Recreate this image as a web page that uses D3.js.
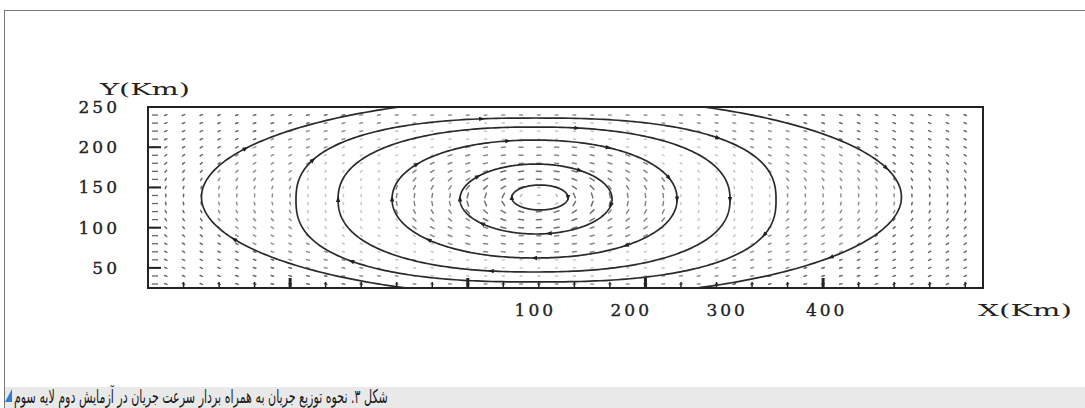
<!DOCTYPE html>
<html>
<head>
<meta charset="utf-8">
<script src="https://cdn.jsdelivr.net/npm/d3@7"></script>
<style>
  body { margin: 0; background: #fff; }
  svg { display: block; }
</style>
</head>
<body>
<svg id="chart" width="1085" height="408"></svg>
<script>
// tick labels as printed on the figure (x labels sit where the scan put them)
var xTickLabels = ["100", "200", "300", "400"];
var xTickLabelKm = [218, 272, 326, 382];
var xMajorTicks = [80, 180, 280, 380];
var yTickLabels = [50, 100, 150, 200, 250];

// streamlines, inner to outer: centre, radii (km), squareness
var lineCx = [220.6, 218.4, 217.6, 217.3, 218.4, 227.1];
var lineCy = [137.5, 135.6, 135.6, 135.0, 134.4, 138.1];
var lineRx = [15.8, 42.8, 80.2, 110.3, 135.1, 197.0];
var lineRy = [15.5, 43.5, 73.3, 90.1, 101.9, 124.3];
var lineSq = [2, 2, 2.1, 2.3, 2.5, 2];
// where the arrow heads sit on each streamline (degrees, clockwise from east)
var arrowAngles = [
  [0, 180],
  [10, 80, 135, 180, 220, 305],
  [0, 51, 90, 137, 180, 215, 260, 300, 340],
  [0, 100, 180, 280],
  [20, 136, 204, 261, 315],
  [37, 155, 209, 343]
];
// velocity vectors: relative length and darkness per band
// (inside 1st line, between consecutive lines, outside the last one)
var bandSpeed = [0.3, 0.8, 0.6, 0.2, 0.2, 0.35, 0.3];
var bandShade = [0.35, 0.7, 0.6, 0.28, 0.3, 0.55, 0.75];
// velocity grid (km)
var vecXKm = d3.range(10, 470, 10);
var vecYKm = d3.range(30, 250, 10);

var svg = d3.select("#chart");
var x = d3.scaleLinear().domain([0, 470]).range([148, 983]);
var y = d3.scaleLinear().domain([25, 250]).range([288, 107]);

// page frame + caption bar
svg.append("line").attr("x1", 4.5).attr("x2", 4.5).attr("y1", 10).attr("y2", 408)
  .attr("stroke", "#777").attr("stroke-width", 1);
svg.append("line").attr("x1", 4).attr("x2", 1085).attr("y1", 10.5).attr("y2", 10.5)
  .attr("stroke", "#777").attr("stroke-width", 1);
svg.append("rect").attr("x", 5).attr("y", 387).attr("width", 1080).attr("height", 21)
  .attr("fill", "#e9e9e9");
svg.append("path").attr("d", "M12,389 L12,402 L5,402 Z").attr("fill", "#2b7fd0");

var cap = svg.append("text")
  .attr("x", 14).attr("y", 403)
  .attr("direction", "rtl")
  .attr("text-anchor", "end")
  .attr("font-family", "DejaVu Sans")
  .attr("font-size", 19)
  .attr("fill", "#1a1a1a")
  .text("شکل ۳. نحوه توزیع جریان به همراه بردار سرعت جریان در آزمایش دوم لایه سوم");
var capW = cap.node().getComputedTextLength();
cap.attr("transform", "translate(14,0) scale(" + (374 / capW) + ",1) translate(-14,0)");

svg.append("clipPath").attr("id", "box")
  .append("rect").attr("x", x(0)).attr("y", y(250))
  .attr("width", x(470) - x(0)).attr("height", y(25) - y(250));

// which band a grid point falls in
function inside(i, gx, gy) {
  var n = lineSq[i];
  return Math.pow(Math.abs((gx - lineCx[i]) / lineRx[i]), n) +
         Math.pow(Math.abs((gy - lineCy[i]) / lineRy[i]), n);
}

var vecs = [];
vecYKm.forEach(function (gy) {
  vecXKm.forEach(function (gx) {
    var band = 6;
    for (var i = 0; i < 6; i++) { if (inside(i, gx, gy) <= 1) { band = i; break; } }
    var j = Math.min(band, 5), n = lineSq[j];
    var dx = (gx - lineCx[j]) / lineRx[j], dy = (gy - lineCy[j]) / lineRy[j];
    var gxk = Math.sign(dx) * Math.pow(Math.abs(dx), n - 1) / lineRx[j];
    var gyk = Math.sign(dy) * Math.pow(Math.abs(dy), n - 1) / lineRy[j];
    // clockwise tangent, in screen units
    var tx = gyk * (x(1) - x(0)), ty = gxk * (y(0) - y(1));
    var len = Math.sqrt(tx * tx + ty * ty) || 1;
    vecs.push({ gx: gx, gy: gy, ux: tx / len, uy: ty / len,
                s: bandSpeed[band], c: bandShade[band] });
  });
});

function vlen(d) { return 1 + 5 * d.s; }
var field = svg.append("g").attr("clip-path", "url(#box)");
field.selectAll("line.vec").data(vecs).enter().append("line")
  .attr("class", "vec")
  .attr("x1", function (d) { return x(d.gx) - d.ux * vlen(d) / 2; })
  .attr("y1", function (d) { return y(d.gy) - d.uy * vlen(d) / 2; })
  .attr("x2", function (d) { return x(d.gx) + d.ux * vlen(d) / 2; })
  .attr("y2", function (d) { return y(d.gy) + d.uy * vlen(d) / 2; })
  .attr("stroke", "#333")
  .attr("stroke-width", 1.5)
  .attr("stroke-linecap", "round")
  .attr("stroke-opacity", function (d) { return d.c; });

// streamlines
function pt(i, deg) {
  var t = deg * Math.PI / 180, c = Math.cos(t), s = Math.sin(t), e = 2 / lineSq[i];
  var xk = lineCx[i] + lineRx[i] * Math.sign(c) * Math.pow(Math.abs(c), e);
  var yk = lineCy[i] - lineRy[i] * Math.sign(s) * Math.pow(Math.abs(s), e);
  return [x(xk), y(yk)];
}
var lineGen = d3.line().curve(d3.curveLinearClosed);
var streams = svg.append("g").attr("clip-path", "url(#box)");
d3.range(6).forEach(function (i) {
  var pts = d3.range(0, 360, 1).map(function (a) { return pt(i, a); });
  streams.append("path").attr("d", lineGen(pts))
    .attr("fill", "none").attr("stroke", "#2a2a2a").attr("stroke-width", 1.7);
  arrowAngles[i].forEach(function (a) {
    var p = pt(i, a), p0 = pt(i, a - 1), p1 = pt(i, a + 1);
    var ux = p1[0] - p0[0], uy = p1[1] - p0[1], l = Math.sqrt(ux * ux + uy * uy);
    ux /= l; uy /= l;
    var tip = [p[0] + ux * 3.5, p[1] + uy * 3.5];
    var b1 = [p[0] - ux * 2.5 - uy * 2.2, p[1] - uy * 2.5 + ux * 2.2];
    var b2 = [p[0] - ux * 2.5 + uy * 2.2, p[1] - uy * 2.5 - ux * 2.2];
    streams.append("path").attr("d", "M" + tip + "L" + b1 + "L" + b2 + "Z")
      .attr("fill", "#222");
  });
});

// frame of the plot
svg.append("rect").attr("x", x(0)).attr("y", y(250))
  .attr("width", x(470) - x(0)).attr("height", y(25) - y(250))
  .attr("fill", "none").attr("stroke", "#222").attr("stroke-width", 2);

// x ticks (inward)
var xt = svg.append("g");
xt.selectAll("line").data(d3.range(20, 470, 20)).enter().append("line")
  .attr("x1", function (d) { return x(d); }).attr("x2", function (d) { return x(d); })
  .attr("y1", y(25))
  .attr("y2", function (d) { return y(25) - (xMajorTicks.indexOf(d) >= 0 ? 10 : 6); })
  .attr("stroke", "#222")
  .attr("stroke-width", function (d) { return xMajorTicks.indexOf(d) >= 0 ? 3 : 1.5; });

// y ticks (inward)
var yt = svg.append("g");
yt.selectAll("line.minor").data(d3.range(30, 250, 10)).enter().append("line")
  .attr("class", "minor")
  .attr("x1", x(0) + 4).attr("x2", x(0) + 10)
  .attr("y1", function (d) { return y(d); }).attr("y2", function (d) { return y(d); })
  .attr("stroke", "#666").attr("stroke-width", 1.3);
yt.selectAll("line.major").data([50, 100, 150, 200]).enter().append("line")
  .attr("class", "major")
  .attr("x1", x(0)).attr("x2", x(0) + 13)
  .attr("y1", function (d) { return y(d); }).attr("y2", function (d) { return y(d); })
  .attr("stroke", "#222").attr("stroke-width", 2);

var font = "DejaVu Serif";
svg.append("g").selectAll("text").data(yTickLabels).enter().append("text")
  .attr("x", 120).attr("y", function (d) { return y(d) + 6; })
  .attr("text-anchor", "end")
  .attr("font-family", font).attr("font-size", 17).attr("letter-spacing", 3)
  .attr("fill", "#222").attr("stroke", "#222").attr("stroke-width", 0.35)
  .text(function (d) { return d; });

svg.append("g").selectAll("text").data(xTickLabels).enter().append("text")
  .attr("x", function (d, i) { return x(xTickLabelKm[i]); }).attr("y", 316)
  .attr("text-anchor", "middle")
  .attr("font-family", font).attr("font-size", 17).attr("letter-spacing", 3)
  .attr("fill", "#222").attr("stroke", "#222").attr("stroke-width", 0.35)
  .text(function (d) { return d; });

svg.append("text").attr("x", 100).attr("y", 95)
  .attr("font-family", font).attr("font-size", 17)
  .attr("textLength", 90).attr("lengthAdjust", "spacingAndGlyphs")
  .attr("fill", "#222").text("Y(Km)");
svg.append("text").attr("x", 978).attr("y", 316)
  .attr("font-family", font).attr("font-size", 17)
  .attr("textLength", 94).attr("lengthAdjust", "spacingAndGlyphs")
  .attr("fill", "#222").text("X(Km)");
</script>
</body>
</html>
